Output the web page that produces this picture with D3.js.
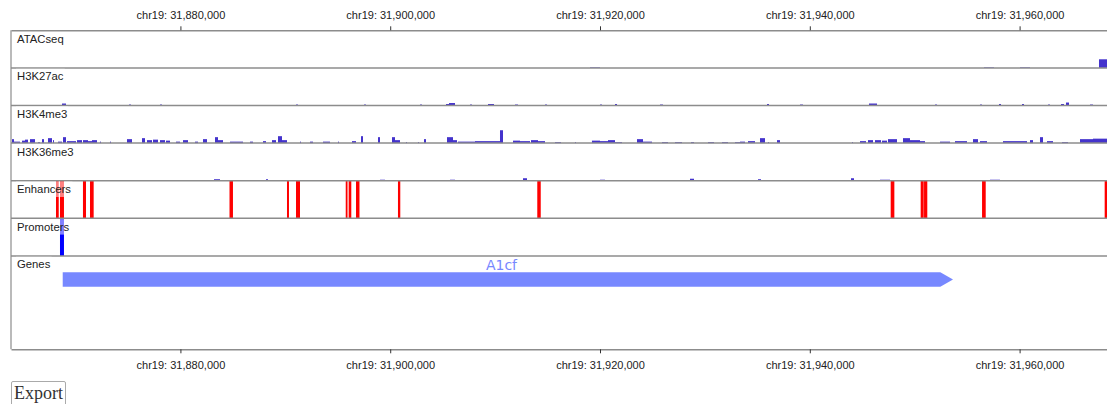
<!DOCTYPE html>
<html>
<head>
<meta charset="utf-8">
<script src="https://cdn.jsdelivr.net/npm/d3@7"></script>
<style>
  html, body { margin: 0; padding: 0; background: #fff; }
  body { width: 1107px; height: 404px; overflow: hidden; position: relative; font-family: "Liberation Serif", serif; }
  #export {
    position: absolute; left: 11px; top: 381px;
    font-family: "Liberation Serif", serif; font-size: 18px; color: #333;
    background: #fff; border: 1px solid #aaa; border-radius: 2px;
    padding: 1px 2px; line-height: 21px; cursor: pointer;
  }
</style>
</head>
<body>
<svg id="browser" width="1107" height="380"></svg>
<button id="export">Export</button>
<script>
// Region shown: chr19 around A1cf
const chrom = "chr19";
const regionStart = 31863850;
const regionEnd = 31968332;
const tickValues = [31880000, 31900000, 31920000, 31940000, 31960000];

const trackNames = ["ATACseq", "H3K27ac", "H3K4me3", "H3K36me3", "Enhancers", "Promoters", "Genes"];

// Signal tracks: [start, end, value]
const atacSignal = [
  [31919046, 31919999, 0.6],
  [31956606, 31957559, 0.6],
  [31960038, 31960991, 0.6],
  [31967569, 31968400, 8.7]
];

const h3k27acSignal = [
  [31868712, 31869093, 2], [31875099, 31875290, 1], [31878054, 31878245, 1],
  [31891019, 31891210, 1], [31897501, 31897692, 1], [31902840, 31903031, 1],
  [31905319, 31905605, 1.5], [31905605, 31906177, 2.5], [31907606, 31907797, 1],
  [31909322, 31909894, 1.5], [31911896, 31912182, 1], [31914756, 31914947, 1],
  [31919999, 31920190, 1], [31921429, 31921620, 1.5], [31925719, 31926005, 1],
  [31935919, 31936110, 1.5], [31939065, 31939351, 1], [31945643, 31946406, 2],
  [31951935, 31952126, 1], [31956225, 31956415, 1], [31958036, 31958227, 1.5],
  [31960229, 31960419, 1.5], [31962707, 31962898, 1], [31963947, 31964233, 1.5],
  [31964423, 31964709, 3], [31966711, 31966997, 1]
];

const h3k4me3Signal = [
  [31863945, 31864136, 4], [31864136, 31864708, 1.5], [31864899, 31865185, 2.5],
  [31865185, 31865471, 3.5], [31865661, 31866138, 4], [31866424, 31866615, 1],
  [31866805, 31866996, 4], [31867377, 31867759, 5], [31867854, 31867949, 3],
  [31868330, 31868712, 1.5], [31868807, 31869093, 6], [31869188, 31870046, 2],
  [31870142, 31870618, 3], [31870714, 31871190, 3], [31871190, 31871572, 2],
  [31871572, 31872048, 3], [31872334, 31872430, 1.5], [31873288, 31873383, 1.5],
  [31874908, 31875385, 4], [31876338, 31876624, 5], [31876815, 31877292, 3],
  [31877387, 31877864, 3.5], [31878054, 31878531, 3], [31878626, 31879007, 2.5],
  [31879579, 31879961, 1.5], [31880247, 31880723, 3], [31881391, 31881677, 1.5],
  [31882153, 31882535, 4], [31883297, 31883583, 6], [31883583, 31884060, 3],
  [31884727, 31885967, 1.5], [31886634, 31886920, 1.5], [31887873, 31888159, 2],
  [31888731, 31889112, 3], [31889303, 31889684, 7], [31889684, 31890161, 3],
  [31891400, 31891496, 1.5], [31892354, 31892640, 1.5], [31893593, 31894260, 1.5],
  [31895023, 31895118, 1.5], [31896358, 31896739, 2], [31897216, 31897406, 7],
  [31898836, 31899027, 6], [31900171, 31900457, 6], [31900457, 31900933, 3],
  [31901505, 31901601, 1], [31902649, 31902745, 1], [31903221, 31903412, 4],
  [31905414, 31905986, 6], [31905986, 31906367, 3], [31906463, 31908083, 1.5],
  [31908083, 31909322, 2], [31909322, 31910466, 2], [31910466, 31910752, 13],
  [31911706, 31912373, 2.5], [31912373, 31913326, 2], [31913422, 31914089, 3],
  [31914089, 31914756, 2], [31915710, 31916282, 1], [31917616, 31917711, 1],
  [31919232, 31919999, 2.5], [31919999, 31920762, 2], [31920762, 31921429, 3],
  [31921429, 31922096, 1], [31923527, 31924099, 4], [31924099, 31924957, 1.5],
  [31925910, 31926482, 1], [31927149, 31927816, 1], [31928674, 31928960, 1],
  [31930295, 31930867, 1], [31931630, 31932202, 1], [31932869, 31933346, 1],
  [31933346, 31933822, 1.5], [31934108, 31934776, 2], [31935252, 31935729, 5],
  [31936015, 31936110, 1], [31936873, 31937159, 3], [31944023, 31944118, 1],
  [31944785, 31945357, 2], [31945548, 31946025, 3], [31946215, 31946787, 3],
  [31946882, 31947359, 2.5], [31947454, 31948312, 4], [31948884, 31949552, 5],
  [31949552, 31950505, 3], [31950505, 31950982, 2], [31952412, 31953365, 1.5],
  [31953842, 31954985, 2], [31955557, 31956034, 4], [31956225, 31956892, 2],
  [31958417, 31959752, 2], [31959752, 31960705, 2], [31960991, 31961277, 3],
  [31961944, 31962231, 6], [31962612, 31963184, 2], [31964042, 31964614, 1],
  [31965758, 31966997, 4], [31966997, 31968332, 4.5]
];

const h3k36me3Signal = [
  [31883202, 31883774, 1.5], [31888159, 31888350, 1.5], [31899027, 31899503, 1],
  [31905700, 31906177, 1], [31912659, 31913040, 2.5], [31919999, 31920476, 1],
  [31928579, 31928960, 2], [31935062, 31935348, 1.5], [31943927, 31944213, 2.5],
  [31946692, 31947646, 1], [31957178, 31958131, 1]
];

// Annotation tracks: [start, end]
const enhancers = [
  [31868140, 31868400], [31868520, 31868900], [31870710, 31871000],
  [31871380, 31871730], [31884680, 31885010], [31890160, 31890350],
  [31891020, 31891400], [31895760, 31895930], [31896040, 31896290],
  [31896740, 31897070], [31900740, 31900960], [31914020, 31914350],
  [31947710, 31948060], [31950570, 31950860], [31950890, 31951200],
  [31956420, 31956770], [31968110, 31968600]
];
const promoters = [[31868520, 31868900]];

const genes = [{ name: "A1cf", start: 31868780, end: 31953650, strand: "+" }];

// Layout
const svg = d3.select("#browser");
const left = 11, right = 1107;
const top0 = 30.3, trackH = 37.6, genesH = 93.4;
const signalMax = 38;
const signalColor = "#4433cc";
const lineColor = "#8c8c8c";
const labelFont = "'Liberation Sans', Arial, sans-serif";

const x = d3.scaleLinear().domain([regionStart, regionEnd]).range([left, right]);

const trackTop = i => top0 + i * trackH;
const bottomY = trackTop(6) + genesH;

const fmt = d3.format(",");
const tickFmt = d => chrom + ": " + fmt(d);

// Signal bars
const signals = [atacSignal, h3k27acSignal, h3k4me3Signal, h3k36me3Signal];
signals.forEach((data, i) => {
  const bottom = trackTop(i + 1);
  const y = d3.scaleLinear().domain([0, signalMax]).range([bottom, trackTop(i)]);
  svg.append("g").selectAll("rect").data(data).join("rect")
    .attr("x", d => x(d[0]))
    .attr("width", d => Math.max(1, x(d[1]) - x(d[0])))
    .attr("y", d => y(d[2]))
    .attr("height", d => bottom - y(d[2]))
    .attr("fill", signalColor);
});

// Enhancers
svg.append("g").selectAll("rect").data(enhancers).join("rect")
  .attr("x", d => x(d[0]))
  .attr("width", d => Math.max(1.5, x(d[1]) - x(d[0])))
  .attr("y", trackTop(4))
  .attr("height", trackH)
  .attr("fill", "#ff0000");

// Promoters
svg.append("g").selectAll("rect").data(promoters).join("rect")
  .attr("x", d => x(d[0]))
  .attr("width", d => Math.max(1.5, x(d[1]) - x(d[0])))
  .attr("y", trackTop(5))
  .attr("height", trackH)
  .attr("fill", "#0000ff");

// Genes
const geneColor = "#7788ff";
const headLen = 12.7, geneHalf = 7.2;
const geneMid = trackTop(6) + 23.6;
const gg = svg.append("g");
gg.selectAll("path").data(genes).join("path")
  .attr("d", d => {
    const x0 = x(d.start), x1 = x(d.end), xb = x1 - headLen;
    return `M${x0},${geneMid - geneHalf}L${xb},${geneMid - geneHalf}L${x1},${geneMid}` +
           `L${xb},${geneMid + geneHalf}L${x0},${geneMid + geneHalf}Z`;
  })
  .attr("fill", geneColor);
gg.selectAll("text").data(genes).join("text")
  .attr("x", d => (x(d.start) + x(d.end) - headLen) / 2)
  .attr("y", geneMid - geneHalf - 2.5)
  .attr("text-anchor", "middle")
  .attr("font-family", "'DejaVu Sans', sans-serif")
  .attr("font-size", 14)
  .attr("fill", geneColor)
  .text(d => d.name);

// Track separators and left border
const sepYs = d3.range(1, 7).map(trackTop);
svg.append("g").selectAll("line").data(sepYs).join("line")
  .attr("x1", left).attr("x2", right)
  .attr("y1", d => d).attr("y2", d => d)
  .attr("stroke", lineColor).attr("stroke-width", 1.5);
svg.append("line")
  .attr("x1", left).attr("x2", left).attr("y1", top0).attr("y2", bottomY)
  .attr("stroke", lineColor).attr("stroke-width", 1.2);

// Track labels with a translucent backing
trackNames.forEach((name, i) => {
  const g = svg.append("g");
  const bg = g.append("rect").attr("fill", "#fff").attr("fill-opacity", 0.5);
  const t = g.append("text")
    .attr("x", 17).attr("y", trackTop(i) + 12.5)
    .attr("font-family", labelFont).attr("font-size", 11.3)
    .attr("fill", "#222").text(name);
  const bb = t.node().getBBox();
  bg.attr("x", bb.x - 1).attr("y", trackTop(i) + 0.8)
    .attr("width", bb.width + 2).attr("height", 15.5);
});

// Axes
function styleAxis(g) {
  g.select(".domain").attr("stroke", lineColor).attr("stroke-width", 1.5);
  g.selectAll(".tick line").attr("stroke", "#333");
  g.selectAll(".tick text").attr("fill", "#222")
    .attr("font-family", labelFont).attr("font-size", 11);
}
svg.append("g").attr("transform", `translate(0,${top0})`)
  .call(d3.axisTop(x).tickValues(tickValues).tickFormat(tickFmt)
    .tickSize(4).tickSizeOuter(0).tickPadding(7))
  .call(styleAxis);
svg.append("g").attr("transform", `translate(0,${bottomY})`)
  .call(d3.axisBottom(x).tickValues(tickValues).tickFormat(tickFmt)
    .tickSize(4).tickSizeOuter(0).tickPadding(8))
  .call(styleAxis);
</script>
</body>
</html>
